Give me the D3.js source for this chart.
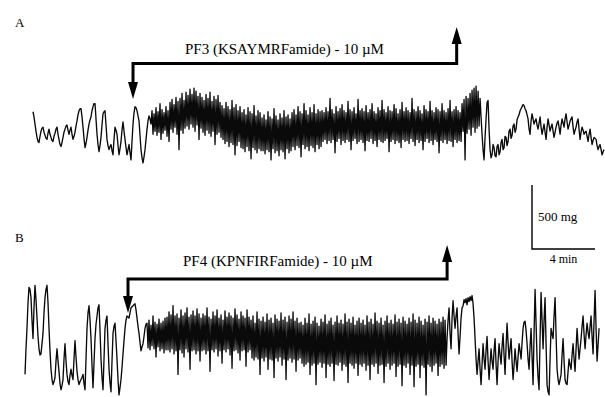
<!DOCTYPE html>
<html>
<head>
<meta charset="utf-8">
<script src="https://cdn.jsdelivr.net/npm/d3@7"></script>
<style>
  body { margin: 0; background: #fff; }
  svg { display: block; }
  text { font-family: "Liberation Serif", "Times New Roman", serif; fill: #000; }
</style>
</head>
<body>
<svg id="chart" width="605" height="397"></svg>
<script>
// Isometric tension recordings (mg), one sample every 0.0635 min
const sampleInterval = 0.0635;

const tensionA = [
  // before peptide
  416,376,320,264,216,184,176,224,264,288, 296,256,232,208,200,248,280,240,216,192,
  184,224,248,280,296,240,200,160,144,176, 216,256,280,304,312,272,240,272,296,240,
  200,224,256,304,344,392,424,440,440,376, 296,208,136,168,216,272,320,352,376,424,
  456,480,480,360,240,160,104,152,216,312, 400,416,424,312,200,152,120,144,160,112,
  80,200,296,272,240,152,80,128,184,272, 336,264,200,136,80,120,160,96,40,184,
  320,408,456,448,424,384,344,232,120,56, 16,64,120,200,280,344,384,360,320,
  // PF3 applied
  424,240,400,264,448,232,416,256,480,200,432,248,408,272,456,224,424,184,
  488,280,512,256,472,296,528,240,496,120,520,272,560,248,504,288,
  568,304,544,280,592,320,552,296,600,264,576,312,536,200,560,288,
  528,256,504,232,552,272,520,248,568,224,496,264,536,160,512,240,544,256,488,216,
  464,200,440,168,488,184,456,144,432,176,504,160,448,80,472,152,424,184,456,136,
  408,128,432,104,392,144,448,112,416,48,400,136,464,120,384,96,424,128,408,112,
  368,112,392,88,352,120,416,104,376,40,360,128,440,96,384,112,352,72,400,120,
  368,104,424,48,376,128,392,96,360,112,
  408,144,432,120,392,152,456,136,416,64,400,160,480,128,424,144,392,112,448,152,
  408,136,472,104,400,160,432,128,416,144,
  424,184,408,200,448,168,416,192,520,176,432,200,400,96,456,184,416,208,440,160,
  472,192,424,176,408,200,496,184,432,120,416,192,448,208,400,168,512,184,424,200,
  440,176,416,112,464,192,408,184,432,208,480,168,416,192,400,144,448,200,424,184,
  504,176,432,192,408,208,456,104,424,184,416,200,472,168,440,192,400,176,432,136,
  488,200,416,184,448,192,424,168,408,208,520,184,432,152,416,200,456,176,424,192,
  400,120,464,184,432,208,416,176,496,192,424,160,408,200,448,184,432,96,416,192,
  480,176,424,200,408,168,440,192,504,184,416,144,432,200,456,176,424,192,408,184,
  480,264,512,40,536,248,520,280,560,232,584,296,600,256,616,288,576,304,
  // washout
  520,376,240,120,40,216,360,488,504,280, 120,56,80,160,136,72,64,144,160,80,
  104,176,200,120,136,224,216,152,184,264, 280,208,232,304,320,256,280,352,376,392,
  424,440,456,472,464,440,424,392,360,280, 240,344,400,360,320,344,360,312,280,328,
  376,296,240,280,320,256,200,296,360,312, 264,296,320,264,216,256,296,328,344,296,
  240,312,360,328,296,360,400,336,280,312, 344,360,376,296,240,272,296,336,360,280,
  200,256,296,272,240,256,264,224,184,240, 280,216,160,192,216,208,200,152,120,144,
  160,120,80,104,120
];

const tensionB = [
  // before peptide
  200,400,560,760,880,864,800,624,480,720, 896,784,640,496,400,352,360,440,520,680,
  800,864,896,760,560,384,240,160,120,144, 176,304,400,304,224,128,80,112,160,320,
  440,304,200,144,120,192,240,192,160,320, 464,336,224,160,120,144,160,176,200,128,
  80,320,560,680,736,624,480,272,96,288, 480,592,656,720,744,544,320,176,80,320,
  560,624,656,440,240,136,64,304,520,576, 600,464,320,160,40,96,160,256,360,464,
  560,624,656,648,640,680,720,728,736,744, 752,704,640,576,520,448,384,416,440,496,
  560,592,
  // PF4 applied
  600,408,624,392,584,424,656,400,608,336,592,416,632,384,600,400,616,368,640,392,
  648,392,688,376,664,400,736,360,656,384,672,200,640,392,704,368,656,336,680,400,
  720,376,648,240,664,384,696,392,656,360,712,384,672,304,
  640,384,672,392,656,360,720,384,648,224,632,392,688,376,656,400,704,344,640,384,
  664,288,624,392,696,376,648,400,680,352,656,248,640,384,712,392,664,368,632,312,
  688,384,656,392,640,264,704,376,648,392,
  624,328,656,312,600,336,688,320,632,200,616,328,648,304,608,336,672,240,624,320,
  640,312,600,176,664,328,632,304,616,336,680,272,624,320,648,160,608,312,656,328,
  632,296,688,320,616,224,640,312,600,328,
  608,288,584,264,640,280,600,296,672,200,592,272,616,288,648,120,600,280,576,296,
  632,256,608,288,664,176,592,280,616,264,640,288,584,152,608,280,656,272,600,296,
  624,232,592,280,672,264,608,136,632,288,600,272,648,248,584,288,616,192,640,280,
  600,264,624,288,584,232,656,272,608,160,632,280,592,264,680,288,616,208,600,272,
  640,280,584,136,616,264,656,288,600,240,624,272,592,288,664,184,608,264,632,280,
  600,112,648,272,616,256,592,288,640,200,608,272,672,104,624,264,600,280,648,176,
  616,272,584,256,632,40,608,280,656,264,600,224,640,272,616,288,592,192,632,264,
  608,280,648,248,624,272,
  // washout
  480,624,720,520,400,640,776,656,560,656, 720,520,360,496,640,720,736,784,760,792,
  744,800,768,808,776,816,752,640,480,320, 200,304,400,240,120,280,440,320,240,384,
  496,304,160,280,400,304,240,384,480,280, 120,304,440,352,280,416,520,352,200,416,
  600,448,320,400,480,304,160,272,400,304, 224,336,440,384,320,448,560,608,616,544,
  440,320,240,416,560,336,120,520,864,600, 320,176,80,480,840,624,400,624,800,440,
  120,64,40,320,560,512,480,656,800,512, 240,160,120,160,200,352,480,304,160,128,
  120,224,320,272,240,352,440,320,224,400, 560,432,320,400,480,576,656,512,400,512,
  600,528,480,576,656,496,360,624,856,560, 304,432,560
];

const panelLabels = ["A", "B"];
const peptideLabels = ["PF3 (KSAYMRFamide) - 10 \u00B5M", "PF4 (KPNFIRFamide) - 10 \u00B5M"];
const applicationOn = [6.35, 6.54];   // min
const applicationOff = [26.9, 26.8];  // min
const scaleBarTime = 4;               // min
const scaleBarTension = 500;          // mg
const scaleBarLabels = ["500 mg", "4 min"];

const svg = d3.select("#chart");
const pxPerMin = 15.75;
const pxPer500mg = 64;

const panels = [
  { data: tensionA, x0: 33, base: 165, barY: 63.5, tipOn: 99, tipOff: 27, labelY: 27, textX: 185, textY: 54 },
  { data: tensionB, x0: 25, base: 400, barY: 279, tipOn: 313, tipOff: 245, labelY: 242, textX: 183, textY: 266 }
];

function arrowHead(g, x, tipY, dir) {
  // dir = +1 points down, -1 points up
  const len = 17, half = 5;
  g.append("path")
    .attr("d", `M${x - half},${tipY - dir * len} L${x + half},${tipY - dir * len} L${x},${tipY} Z`)
    .attr("fill", "#000");
}

panels.forEach((p, k) => {
  const x = d3.scaleLinear().domain([0, 1]).range([p.x0, p.x0 + pxPerMin]);
  const y = d3.scaleLinear().domain([0, scaleBarTension]).range([p.base, p.base - pxPer500mg]);
  const g = svg.append("g");

  g.append("path")
    .datum(p.data)
    .attr("fill", "none")
    .attr("stroke", "#0a0a0a")
    .attr("stroke-width", 1.35)
    .attr("stroke-linejoin", "round")
    .attr("d", d3.line().x((d, i) => x(i * sampleInterval)).y(d => y(d)));

  // Peptide application bracket
  const xOn = x(applicationOn[k]), xOff = x(applicationOff[k]);
  g.append("path")
    .attr("d", `M${xOn},${p.tipOn - 15} L${xOn},${p.barY} L${xOff},${p.barY} L${xOff},${p.tipOff + 15}`)
    .attr("fill", "none")
    .attr("stroke", "#000")
    .attr("stroke-width", 3);
  arrowHead(g, xOn, p.tipOn, 1);
  arrowHead(g, xOff, p.tipOff, -1);

  g.append("text")
    .attr("x", p.textX).attr("y", p.textY)
    .attr("font-size", 15)
    .text(peptideLabels[k]);

  g.append("text")
    .attr("x", 15).attr("y", p.labelY)
    .attr("font-size", 13)
    .text(panelLabels[k]);
});

// Calibration bar
const bx = 532, by = 249;
const barX = d3.scaleLinear().domain([0, 1]).range([bx, bx + pxPerMin]);
const barY = d3.scaleLinear().domain([0, scaleBarTension]).range([by, by - pxPer500mg]);
svg.append("path")
  .attr("d", `M${bx},${barY(scaleBarTension)} L${bx},${by} L${barX(scaleBarTime)},${by}`)
  .attr("fill", "none")
  .attr("stroke", "#000")
  .attr("stroke-width", 1.4);
svg.append("text").attr("x", bx + 6).attr("y", 221).attr("font-size", 13).text(scaleBarLabels[0]);
svg.append("text").attr("x", barX(scaleBarTime / 2)).attr("y", 263).attr("font-size", 12)
  .attr("text-anchor", "middle").text(scaleBarLabels[1]);
</script>
</body>
</html>
